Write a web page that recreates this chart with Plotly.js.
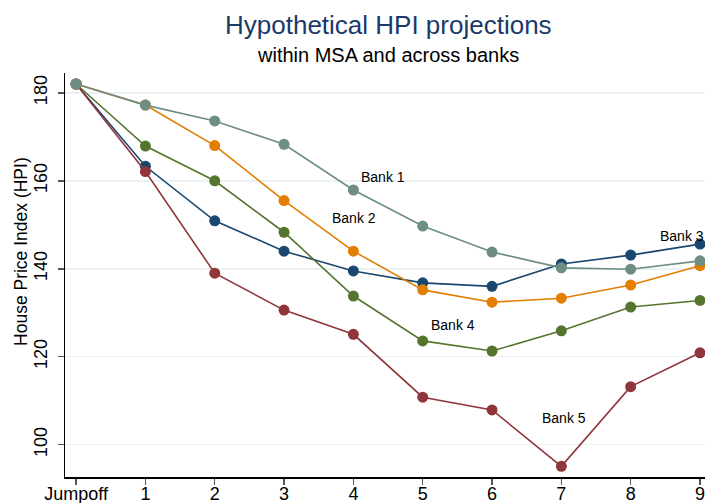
<!DOCTYPE html>
<html>
<head>
<meta charset="utf-8">
<script src="https://cdn.plot.ly/plotly-3.0.1.min.js"></script>
<style>html,body{margin:0;padding:0;background:#fff;}#chart{width:705px;height:503px;}</style>
</head>
<body>
<div id="chart"></div>
<script>
const categories = ["Jumpoff", "1", "2", "3", "4", "5", "6", "7", "8", "9"];
const bank1 = [182.0, 177.2, 173.6, 168.3, 157.9, 149.7, 143.8, 140.2, 139.9, 141.8];
const bank2 = [182.0, 177.2, 168.0, 155.5, 144.0, 135.2, 132.4, 133.3, 136.3, 140.7];
const bank3 = [182.0, 163.3, 150.9, 144.0, 139.5, 136.8, 136.0, 141.1, 143.1, 145.6];
const bank4 = [182.0, 167.9, 160.0, 148.3, 133.8, 123.6, 121.3, 125.9, 131.3, 132.8];
const bank5 = [182.0, 162.1, 139.0, 130.6, 125.1, 110.8, 107.9, 95.1, 113.2, 120.9];
const seriesNames = ["Bank 1", "Bank 2", "Bank 3", "Bank 4", "Bank 5"];
const yTicks = [100, 120, 140, 160, 180];
const titleText = "Hypothetical HPI projections";
const subtitleText = "within MSA and across banks";
const yTitleText = "House Price Index (HPI)";

const FONT = "Arial, Liberation Sans, sans-serif";
const colors = {"Bank 1": "#6e8e84", "Bank 2": "#e37e00", "Bank 3": "#1a476f", "Bank 4": "#55752f", "Bank 5": "#90353b"};
const dataMap = {"Bank 1": bank1, "Bank 2": bank2, "Bank 3": bank3, "Bank 4": bank4, "Bank 5": bank5};
const drawOrder = ["Bank 3", "Bank 4", "Bank 5", "Bank 2", "Bank 1"];

const traces = drawOrder.map(n => ({
  type: "scatter", mode: "lines+markers", name: n,
  x: categories, y: dataMap[n],
  line: {color: colors[n], width: 1.6},
  marker: {color: colors[n], size: 11}
}));

// label positions (category index, y)
const labelPos = {"Bank 1": [4.43, 160.8], "Bank 2": [4.01, 151.5], "Bank 3": [8.74, 147.4], "Bank 4": [5.44, 127.2], "Bank 5": [7.04, 106.1]};
const annotations = seriesNames.map(n => ({
  x: labelPos[n][0], y: labelPos[n][1], xref: "x", yref: "y",
  text: n, showarrow: false, font: {family: FONT, size: 14, color: "#000"}
}));
annotations.push({
  x: 0.5047, y: 1.1188, xref: "paper", yref: "paper", xanchor: "center", yanchor: "middle",
  text: titleText, showarrow: false, font: {family: FONT, size: 26, color: "#1a3a6a"}
});
annotations.push({
  x: 0.5047, y: 1.0446, xref: "paper", yref: "paper", xanchor: "center", yanchor: "middle",
  text: subtitleText, showarrow: false, font: {family: FONT, size: 20, color: "#000"}
});
annotations.push({
  x: -0.0688, y: 0.5594, xref: "paper", yref: "paper", xanchor: "center", yanchor: "middle",
  text: yTitleText, textangle: -90, showarrow: false, font: {family: FONT, size: 17.5, color: "#000"}
});

const layout = {
  width: 705, height: 503,
  margin: {l: 65, r: 0, t: 73, b: 26},
  paper_bgcolor: "#fff", plot_bgcolor: "#fff",
  showlegend: false,
  font: {family: FONT, color: "#000"},
  xaxis: {
    type: "category", categoryorder: "array", categoryarray: categories,
    range: [-0.16, 9.072],
    showline: true, linecolor: "#000", linewidth: 1.5,
    ticks: "outside", ticklen: 6, tickcolor: "#555", tickwidth: 1.5,
    showgrid: false, zeroline: false, ticklabelstandoff: -6,
    tickfont: {family: FONT, size: 18, color: "#000"}
  },
  yaxis: {
    range: [92.66, 184.5],
    tickvals: yTicks, ticktext: yTicks.map(String), tickangle: -90,
    showline: true, linecolor: "#000", linewidth: 1.5,
    ticks: "outside", ticklen: 6, tickcolor: "#555", tickwidth: 1.5,
    showgrid: true, gridcolor: "#eaf2f3", gridwidth: 1.5, zeroline: false,
    ticklabelstandoff: 3,
    tickfont: {family: FONT, size: 18, color: "#000"}
  },
  annotations: annotations
};

Plotly.newPlot("chart", traces, layout, {displayModeBar: false, staticPlot: true});
</script>
</body>
</html>
